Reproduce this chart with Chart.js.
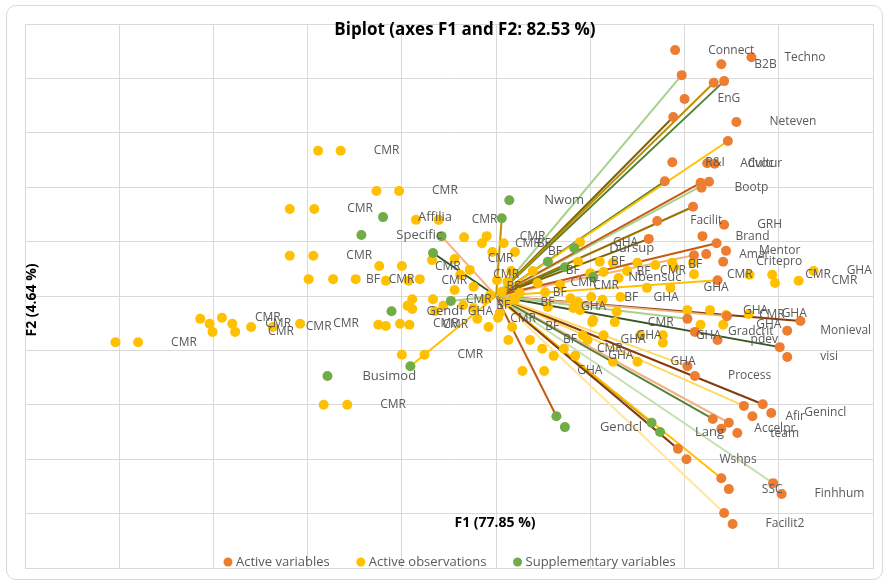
<!DOCTYPE html>
<html>
<head>
<meta charset="utf-8">
<title>Biplot (axes F1 and F2: 82.53 %)</title>
<script src="https://cdn.jsdelivr.net/npm/chart.js@4.4.0/dist/chart.umd.min.js"></script>
<style>
html,body{margin:0;padding:0;background:#fff;}
#wrap{position:relative;width:887px;height:582px;}
#frame{position:absolute;left:6px;top:5px;width:875px;height:573px;border:1px solid #d9d9d9;border-radius:10px;}
#biplot{position:absolute;left:0;top:0;}
</style>
</head>
<body>
<div id="wrap"><div id="frame"></div><canvas id="biplot" width="887" height="582"></canvas></div>
<script>
const CHART_TITLE="Biplot (axes F1 and F2: 82.53 %)";
const X_TITLE="F1 (77.85 %)";
const Y_TITLE="F2 (4.64 %)";

/* ACTIVE VARIABLES (labelled points) */
const varNames=["Connect","Techno","B2B","EnG","Neteven","R&I","Advoc","Cultur","Bootp","Facilit",
  "GRH","Brand","Amar","Mentor","Critepro","Gradcrit","Monieval","pdev","visi","Process",
  "Genincl","Afir","Accelpr","team","Wshps","SSC","Finhhum","Facilit2"];
const varX=[1.90,2.71,2.39,2.00,2.55,1.87,2.24,2.32,2.18,1.71,
  2.42,2.19,2.23,2.44,2.41,2.11,3.09,2.35,3.09,2.11,
  2.92,2.72,2.39,2.56,2.02,2.47,3.03,2.51];
const varY=[4.52,4.39,4.26,3.62,3.20,2.46,2.44,2.43,1.99,1.38,
  1.31,1.10,0.77,0.83,0.63,-0.66,-0.64,-0.81,-1.12,-1.47,
  -2.15,-2.21,-2.44,-2.52,-3.00,-3.55,-3.64,-4.19];

/* ACTIVE VARIABLES (vector tips) */
const vecX=[1.97,2.31,2.42,1.88,2.46,1.79,2.17,2.26,2.09,1.62,
  2.34,2.10,2.35,2.03,2.45,3.23,3.01,2.03,2.83,2.63,
  2.30,2.47,1.93,2.39,2.94,2.42];
const vecY=[4.06,3.92,3.95,3.29,2.85,2.11,2.08,2.10,1.64,1.05,
  0.97,0.75,0.29,-0.42,-0.37,-0.46,-0.94,-1.29,-1.99,-2.02,
  -2.26,-2.33,-2.81,-3.35,-3.44,-3.99];

/* SUPPLEMENTARY VARIABLES */
const suppNames=["Nwom","Affilia","Specific","Gendf","Busimod","Gendcl","Lang","Dursup","Nbensuc"];
const suppX=[0.14,-1.20,-1.43,-1.11,-1.79,0.73,1.74,0.83,1.03];
const suppY=[1.76,1.45,1.12,-0.28,-1.47,-2.41,-2.50,0.88,0.35];
const suppTipX=[0.06,-0.58,-0.67,-0.48,-0.91,0.64,1.65,0.55,0.73];
const suppTipY=[1.43,1.10,0.79,-0.09,-1.29,-2.21,-2.33,0.63,0.53];

/* ACTIVE OBSERVATIONS */
const obsNames=["","CMR","","CMR","","CMR","","CMR","","CMR",
  "CMR","","CMR","","CMR","","CMR","","CMR","",
  "CMR","","BF","CMR","","CMR","","CMR","","CMR",
  "","CMR","","CMR","","CMR","CMR","BF","","BF",
  "","CMR","","BF","","","","CMR","","",
  "BF","","CMR","","","","GHA","BF","","CMR",
  "","","","BF","","BF","","","CMR","GHA",
  "","GHA","","GHA","GHA","","GHA","","CMR","",
  "GHA","","GHA","","","BF","BF","","BF","",
  "","","","CMR","","GHA","","","","BF",
  "","GHA","","","","","","GHA","CMR","GHA",
  "","GHA","","CMR","","CMR","GHA","CMR","BF","CMR",
  "","CMR","","GHA","","","CMR","","","BF"];
const obsX=[-4.04,-3.80,-3.14,-2.91,-3.04,-2.80,-3.01,-2.77,-2.60,-2.37,
  -2.08,-1.89,-1.65,-1.27,-1.03,-2.19,-1.93,-0.85,-0.61,-2.19,
  -1.94,-1.99,-1.73,-1.49,-1.24,-1.00,-1.25,-1.02,-1.17,-0.92,
  -1.00,-0.76,-1.83,-1.58,-0.34,-0.10,-0.15,0.08,-0.04,0.20,
  -0.68,-0.44,0.16,0.39,0.01,0.12,-1.17,-0.93,-0.81,-0.44,
  -0.24,-0.89,-0.67,-0.94,-0.56,-0.89,-0.65,-0.35,-0.24,-0.20,
  -0.08,0.02,0.04,0.17,0.13,0.36,0.49,0.61,0.72,0.84,
  0.28,0.51,0.92,0.97,1.14,1.24,1.50,1.02,1.26,1.53,
  1.77,1.77,0.89,1.10,1.24,0.87,1.14,1.50,1.69,1.87,
  2.09,1.00,1.30,1.39,1.60,1.85,1.89,0.79,0.87,1.01,
  1.13,1.32,1.28,0.89,1.03,0.82,2.03,2.27,2.44,2.68,
  2.17,2.41,2.69,2.93,2.96,3.21,3.37,2.10,0.25,0.44,
  0.52,0.68,0.20,0.55,-0.28,-0.12,-0.38,0.06,-0.06,0.12];
const obsY=[-0.85,-0.85,-0.42,-0.40,-0.51,-0.51,-0.66,-0.66,-0.57,-0.57,
  -0.51,2.67,2.67,1.93,1.93,1.60,1.60,1.40,1.40,0.74,
  0.74,0.31,0.31,0.31,0.55,0.55,-0.53,-0.51,-0.55,-0.53,
  -1.08,-1.08,-2.00,-2.00,1.08,1.10,0.97,0.97,0.81,0.81,
  0.66,0.68,0.46,0.46,0.29,0.26,0.28,0.28,0.31,0.11,
  0.17,-0.06,-0.06,-0.18,-0.18,-0.24,-0.28,-0.17,-0.22,-0.42,
  -0.57,-0.40,-0.31,-0.57,-0.81,-0.81,-0.97,-1.10,-0.97,-1.10,
  -1.38,-1.38,-0.72,-0.81,-0.72,-1.21,-1.21,-0.48,-0.48,-0.72,
  -0.72,-0.86,0.99,0.63,0.61,0.63,0.44,0.61,0.57,0.61,
  0.61,0.42,0.33,0.46,0.15,0.15,0.53,-0.04,-0.11,-0.02,
  -0.07,-0.02,-0.29,-0.26,-0.44,-0.22,-0.26,-0.26,-0.35,-0.33,
  -0.53,-0.53,0.39,0.39,0.24,0.28,0.46,0.40,0.06,0.24,
  0.07,0.20,-0.07,-0.20,0.48,-0.07,0.39,0.08,0.02,-0.12];

/* CORES */
const ORANGE="#ED7D31", GOLD="#FFC000", GREEN="#70AD47";
const VEC_COLORS=["#A9D18E","#BF9000","#548235","#7F6000","#FFC000","#548235","#C55A11","#A9D18E","#997300","#7F6000",
  "#C55A11","#F4B183","#FFC000","#A9D18E","#F4B183","#843C0C","#375623","#FFD966","#843C0C","#FFD966",
  "#548235","#F4B183","#843C0C","#FFC000","#C5E0B4","#FFE699"];
const SUPP_VEC_COLORS=["#BF9000","#F4B183","#375623","#A9D18E","#FFC000","#C55A11","#997300","#A9D18E","#548235"];

function pts(xs,ys){
  return xs.map((x,i)=>({x:x,y:ys[i]}));
}

function vector(x,y,color){
  return {label:"",data:[{x:0,y:0},{x:x,y:y}],showLine:true,borderColor:color,borderWidth:2,
    pointRadius:0,order:10,inLegend:false};
}

const datasets=[
  {label:"Active variables",data:pts(varX,varY).concat(pts(vecX,vecY)),backgroundColor:ORANGE,
    pointRadius:5,borderWidth:0,order:2,inLegend:true,names:varNames,labelGap:33,labelFont:'12px "Open Sans"'},
  {label:"Active observations",data:pts(obsX,obsY),backgroundColor:GOLD,
    pointRadius:5,borderWidth:0,order:3,inLegend:true,names:obsNames,labelGap:33,labelFont:'12px "Open Sans"'},
  {label:"Supplementary variables",data:pts(suppX,suppY).concat(pts(suppTipX,suppTipY)),backgroundColor:GREEN,
    pointRadius:5,borderWidth:0,order:1,inLegend:true,names:suppNames,labelGap:35,labelFont:'13px "Open Sans"'}
];
vecX.forEach((x,i)=>datasets.push(vector(x,vecY[i],VEC_COLORS[i%VEC_COLORS.length])));
suppTipX.forEach((x,i)=>datasets.push(vector(x,suppTipY[i],SUPP_VEC_COLORS[i%SUPP_VEC_COLORS.length])));

/* RÓTULOS DOS PONTOS */
const pointLabels={
  id:"pointLabels",
  afterDatasetsDraw(chart){
    const ctx=chart.ctx;
    chart.data.datasets.forEach((ds,i)=>{
      if(!ds.names) return;
      const meta=chart.getDatasetMeta(i);
      ctx.save();
      ctx.font=ds.labelFont;
      ctx.fillStyle="#595959";
      ctx.textBaseline="middle";
      ctx.textAlign="left";
      meta.data.forEach((p,j)=>{
        const name=ds.names[j];
        if(name) ctx.fillText(name,p.x+ds.labelGap,p.y);
      });
      ctx.restore();
    });
  }
};

/* TITULOS E LEGENDA (dentro da area do grafico, como no Excel) */
const overlayText={
  id:"overlayText",
  afterDraw(chart){
    const ctx=chart.ctx;
    ctx.save();
    ctx.fillStyle="#000";
    ctx.textAlign="center";
    ctx.textBaseline="middle";
    ctx.font='bold 17px "Open Sans"';
    ctx.fillText(CHART_TITLE,465,30);
    ctx.font='bold 14px "Open Sans"';
    ctx.fillText(X_TITLE,495,523);
    ctx.save();
    ctx.translate(32,300);
    ctx.rotate(-Math.PI/2);
    ctx.fillText(Y_TITLE,0,0);
    ctx.restore();

    ctx.font='13px "Open Sans"';
    ctx.textAlign="left";
    let x=224;
    const y=562;
    chart.data.datasets.filter(d=>d.inLegend).forEach(d=>{
      ctx.fillStyle=d.backgroundColor;
      ctx.beginPath();
      ctx.arc(x+4,y,4.5,0,Math.PI*2);
      ctx.fill();
      ctx.fillStyle="#595959";
      ctx.fillText(d.label,x+12,y);
      x+=12+ctx.measureText(d.label).width+27;
    });
    ctx.restore();
  }
};

const GRID="#d9d9d9";

new Chart(document.getElementById("biplot"),{
  type:"scatter",
  data:{datasets:datasets},
  options:{
    responsive:false,
    animation:false,
    devicePixelRatio:1,
    events:[],
    layout:{padding:{left:25,right:14,top:24,bottom:14}},
    plugins:{legend:{display:false},tooltip:{enabled:false},title:{display:false}},
    scales:{
      x:{type:"linear",min:-5,max:4,ticks:{stepSize:1,display:false},
        grid:{color:GRID,drawTicks:false},border:{color:GRID}},
      y:{type:"linear",min:-5,max:5,ticks:{stepSize:1,display:false},
        grid:{color:GRID,drawTicks:false},border:{color:GRID}}
    }
  },
  plugins:[pointLabels,overlayText]
});
</script>
</body>
</html>
